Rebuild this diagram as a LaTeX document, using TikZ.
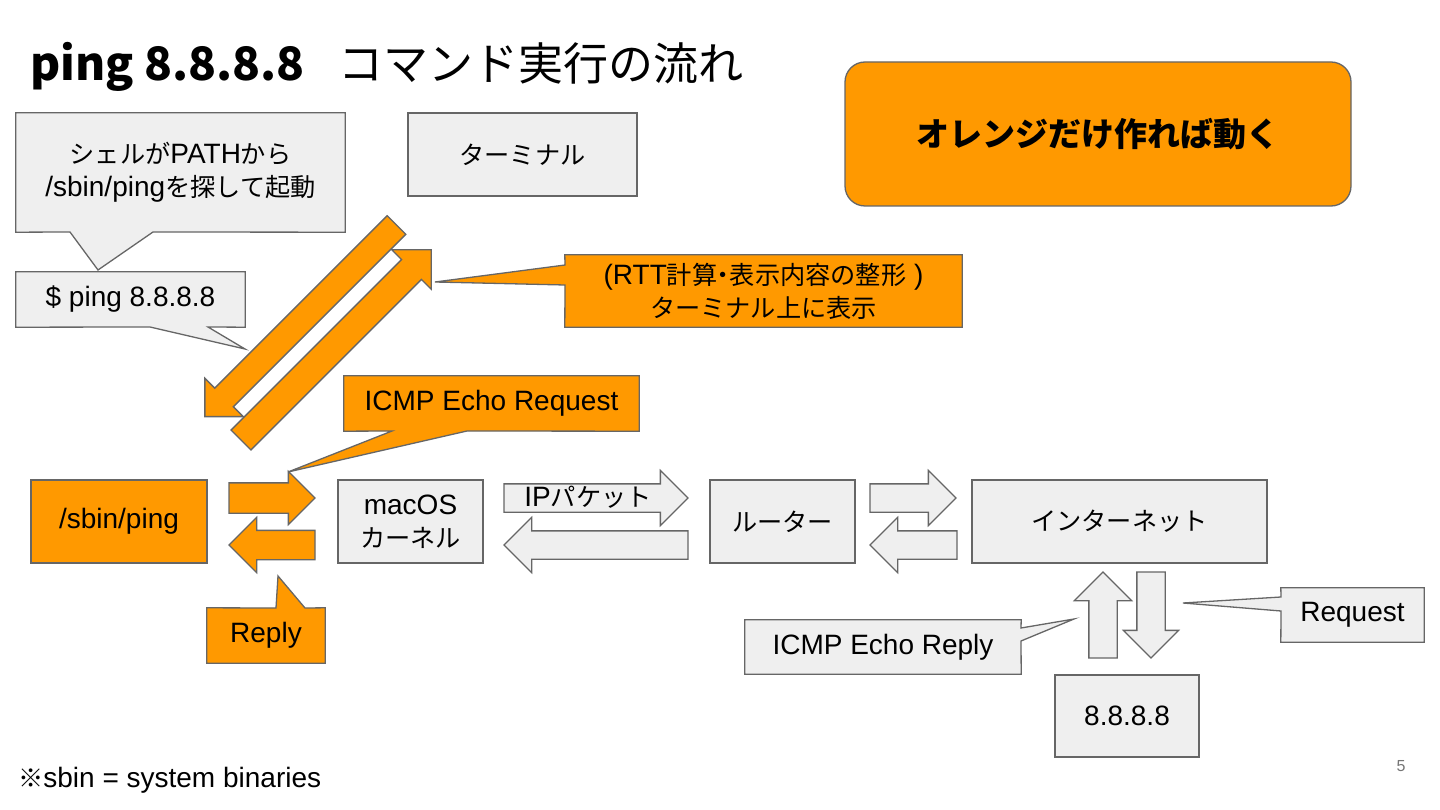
\documentclass[tikz,border=0pt]{standalone}
\usepackage{fontspec}
\setmainfont{Liberation Sans}
\newfontfamily\jpfont{Noto Sans CJK JP}[Scale=0.9]
\newfontfamily\jpprop{Noto Sans CJK JP}[Scale=0.9,RawFeature=+palt]
\newfontfamily\titlefont{Noto Sans CJK JP}
\definecolor{slorange}{HTML}{FF9900}
\definecolor{slgray}{HTML}{EFEFEF}
\definecolor{slline}{HTML}{666666}
\definecolor{slnum}{HTML}{757575}
\usetikzlibrary{shapes.arrows,backgrounds,positioning}
\tikzset{
  bodytext/.style={font=\fontsize{28}{33}\selectfont,align=center,text=black},
  gbox/.style={bodytext,draw=slline,fill=slgray,line width=1.3pt,inner sep=0pt},
  obox/.style={gbox,fill=slorange},
  calltext/.style={bodytext,inner sep=0pt},
  gcall/.style={draw=slline,fill=slgray,line width=1.3pt,line join=miter},
  ocall/.style={gcall,fill=slorange},
  fat/.style={single arrow,draw=slline,fill=slgray,line width=1.3pt,inner sep=0pt,
    outer sep=0pt,inner ysep=13.5pt,minimum width=1pt,single arrow head extend=13.5pt,anchor=tail},
  ofat/.style={fat,fill=slorange},
}

\begin{document}
\begin{tikzpicture}[x=1pt,y=-1pt]
  \useasboundingbox (0,0) rectangle (1440,810);
  % Title
  \node[anchor=base west,inner sep=0pt] (title) at (30,81)
    {{\titlefont\bfseries\fontsize{46}{54}\selectfont ping 8.8.8.8}\hspace{34pt}{\titlefont\fontsize{45}{54}\selectfont コマンド実行の流れ}};
  % Motto
  \node[obox,rounded corners=20pt,minimum width=506pt,minimum height=144pt,
    font=\fontsize{33}{40}\selectfont\titlefont\bfseries] (motto) at (1098,134)
    {オレンジだけ作れば動く};
  % Shell side
  \node[calltext,minimum width=329pt,minimum height=119pt] (shell) at (180.5,172.5)
    {{\jpfont シェルが}PATH{\jpfont から}\\/sbin/ping{\jpfont を探して起動}};
  \node[calltext,minimum width=229pt,minimum height=55pt] (cmd) at (130.5,299.5)
    {\$ ping 8.8.8.8};
  \node[gbox,minimum width=229pt,minimum height=83pt] (term) at (522.5,154.5)
    {{\jpfont ターミナル}};
  \node[calltext,minimum width=397pt,minimum height=72pt] (rtt) at (763.5,291)
    {(RTT{\jpfont 計算}{\jpprop ・}{\jpfont 表示内容の整形} )\\{\jpfont ターミナル上に表示}};
  \node[calltext,minimum width=295pt,minimum height=55pt] (echoreq) at (491.5,403.5)
    {ICMP Echo Request};
  % Main row
  \node[obox,minimum width=176pt,minimum height=83pt] (ping) at (119,521.5) {/sbin/ping};
  \node[gbox,minimum width=145pt,minimum height=83pt] (kernel) at (410.5,521.5)
    {macOS\\{\jpfont カーネル}};
  \node[gbox,minimum width=145pt,minimum height=83pt] (router) at (782.5,521.5)
    {{\jpfont ルーター}};
  \node[gbox,minimum width=295pt,minimum height=83pt] (inet) at (1119.5,521.5)
    {{\jpfont インターネット}};
  \node[gbox,minimum width=144pt,minimum height=82pt] (dns) at (1127,716) {8.8.8.8};
  \node[calltext,minimum width=118pt,minimum height=55pt] (reply) at (266,635.5) {Reply};
  \node[calltext,minimum width=143pt,minimum height=54pt] (reqlabel) at (1352.5,615) {Request};
  \node[calltext,minimum width=276pt,minimum height=54pt] (echorep) at (883,647)
    {ICMP Echo Reply};
  % Block arrows
  \node[ofat,minimum height=271pt,inner ysep=12.5pt,single arrow head extend=14pt,
    rotate=225] (launch) at (396.5,225) {};
  \node[ofat,minimum height=269pt,inner ysep=13.4pt,single arrow head extend=13.8pt,
    rotate=45] (show) at (241,440) {};
  \node[ofat,minimum height=86pt,inner ysep=14.5pt,single arrow head extend=11.5pt]
    (sendarrow) at (229,498) {};
  \node[ofat,minimum height=86pt,inner ysep=14pt,single arrow head extend=13pt,rotate=180]
    (recvarrow) at (315,545) {};
  \node[fat,minimum height=184pt] (ipout) at (504,498) {};
  \node[fat,minimum height=184pt,rotate=180] (ipin) at (688,545) {};
  \node[fat,minimum height=86pt] (wanout) at (870,498) {};
  \node[fat,minimum height=87pt,rotate=180] (wanin) at (957,545) {};
  \node[fat,minimum height=86pt,single arrow head extend=14.5pt,
    rotate=90] (dnsup) at (1103,658) {};
  \node[fat,minimum height=86pt,rotate=-90] (dnsdown) at (1151,572) {};
  \node[calltext] (iplabel) at (588,497) {IP{\jpfont パケット}};
  % Callout tails
  \coordinate (shelltip) at (98,270);
  \coordinate (cmdtip) at (245,349);
  \coordinate (rtttip) at (435,282);
  \coordinate (echoreqtip) at (288,472);
  \coordinate (replytip) at (278,576);
  \coordinate (reqtip) at (1183,603);
  \coordinate (echoreptip) at (1074,619);
  \begin{scope}[on background layer]
    \draw[gcall] (shell.north west) -- (shell.north east) -- (shell.south east)
      -- (153,232) -- (shelltip) -- (70,232) -- (shell.south west) -- cycle;
    \draw[gcall] (cmd.north west) -- (cmd.north east) -- (cmd.south east)
      -- (208,327) -- (cmdtip) -- (150,327) -- (cmd.south west) -- cycle;
    \draw[ocall] (rtt.north west) -- (rtt.north east) -- (rtt.south east)
      -- (rtt.south west) -- (565,285) -- (rtttip) -- (565,265) -- cycle;
    \draw[ocall] (echoreq.north west) -- (echoreq.north east) -- (echoreq.south east)
      -- (467,431) -- (echoreqtip) -- (392,431) -- (echoreq.south west) -- cycle;
    \draw[ocall] (reply.south west) -- (reply.north west) -- (276,608) -- (replytip)
      -- (305,608) -- (reply.north east) -- (reply.south east) -- cycle;
    \draw[gcall] (reqlabel.north west) -- (reqlabel.north east) -- (reqlabel.south east)
      -- (reqlabel.south west) -- (1281,611) -- (reqtip) -- (1281,597) -- cycle;
    \draw[gcall] (echorep.north west) -- (echorep.north east) -- (1021,628) -- (echoreptip)
      -- (1021,641) -- (echorep.south east) -- (echorep.south west) -- cycle;
  \end{scope}
  % Footer
  \node[calltext,anchor=base west] (note) at (18,787) {{\jpfont ※}sbin = system binaries};
  \node[inner sep=0pt,font=\fontsize{16}{19}\selectfont,text=slnum] (pagenum) at (1401,766) {5};
\end{tikzpicture}
\end{document}
